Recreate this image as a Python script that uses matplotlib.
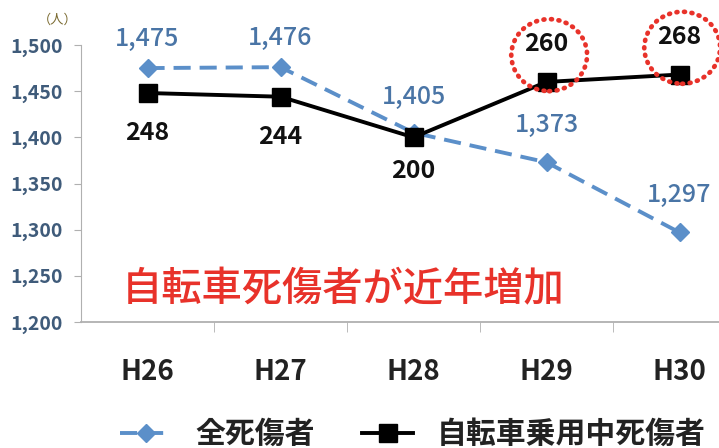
import matplotlib
matplotlib.use('Agg')
import matplotlib.pyplot as plt
from matplotlib.patches import Ellipse

plt.rcParams['font.family'] = ['Noto Sans CJK JP', 'DejaVu Sans']

# データ
years = ['H26', 'H27', 'H28', 'H29', 'H30']
total = [1475, 1476, 1405, 1373, 1297]        # 全死傷者（左軸）
bicycle = [248, 244, 200, 260, 268]           # 自転車乗用中死傷者（第2軸）
total_labels = ['1,475', '1,476', '1,405', '1,373', '1,297']
circled = [3, 4]                              # 赤丸で囲む年

blue = '#5b8fc9'
blue_txt = '#4a75a6'
red = '#e8322a'

fig = plt.figure(figsize=(7.19, 4.48), dpi=100)
ax = fig.add_axes([81/719, 126/448, 665/719, 277/448])
ax2 = ax.twinx()

x = range(len(years))
ax.plot(x, total, color=blue, lw=2.8, ls=(0, (4.4, 2.3)), marker='D', ms=9.5,
        label='全死傷者', zorder=3)
ax2.plot(x, bicycle, color='black', lw=2.8, marker='s', ms=13,
         label='自転車乗用中死傷者', zorder=3)

ax.set_xlim(-0.5, 4.5)
ax.set_ylim(1200, 1500)
ax2.set_ylim(0, 300)
ax.set_yticks(range(1200, 1501, 50))
ax.set_yticklabels([f'{v:,}' for v in range(1200, 1501, 50)])

# 軸の見た目
for a in (ax, ax2):
    a.spines['top'].set_visible(False)
    a.spines['right'].set_visible(False)
ax2.spines['left'].set_visible(False)
ax2.spines['bottom'].set_visible(False)
ax2.set_yticks([])
ax.spines['left'].set_color('#b0b0b0')
ax.spines['bottom'].set_color('#b0b0b0')
ax.spines['bottom'].set_linewidth(1.3)
ax.tick_params(axis='y', colors='#b0b0b0', labelcolor='#3f5b7a',
               labelsize=14, length=5, pad=8)
ax.set_xticks(list(x))
ax.set_xticklabels(years, fontsize=20, fontweight='bold', color='#222222')
ax.tick_params(axis='x', length=0, pad=26)
ax.set_xticks([i + 0.5 for i in range(len(years))], minor=True)
ax.tick_params(axis='x', which='minor', length=7, color='#b0b0b0')
for lab in ax.get_yticklabels():
    lab.set_fontweight('bold')

# データラベル
blue_off = [21, 21, 26, 27, 27]
black_off = [-29, -29, -24, 27, 27]
for i, v in enumerate(total):
    ax.annotate(total_labels[i], (i, v), xytext=(0, blue_off[i]),
                textcoords='offset points', ha='center', va='center',
                fontsize=18, color=blue_txt, fontweight='medium')
for i, v in enumerate(bicycle):
    ax2.annotate(str(v), (i, v), xytext=(0, black_off[i]),
                 textcoords='offset points', ha='center', va='center',
                 fontsize=18, color='#111111', fontweight='bold')

# 赤い点線の丸
for i in circled:
    e = Ellipse((i + 0.02, bicycle[i] + 29), 0.57, 78, fill=False,
                edgecolor=red, lw=3.4, ls=(0, (0.2, 1.4)),
                capstyle='round', clip_on=False, zorder=5)
    ax2.add_patch(e)

ax.text(-0.19, 1235, '自転車死傷者が近年増加', fontsize=29, color=red,
        va='center', ha='left', fontweight='medium')

fig.text(0.053, 0.955, '（人）', fontsize=9.5, color='#7a6a30',
         ha='left', va='center')

h1, l1 = ax.get_legend_handles_labels()
h2, l2 = ax2.get_legend_handles_labels()
fig.legend(h1 + h2, l1 + l2, loc='center left', bbox_to_anchor=(0.13, 1 - 434/448),
           ncol=2, frameon=False, handlelength=1.7, handletextpad=0.8,
           columnspacing=1.6, prop={'size': 21.5, 'weight': 'bold'},
           labelcolor='#222222')

fig.savefig('out.png', dpi=100, facecolor='white')
